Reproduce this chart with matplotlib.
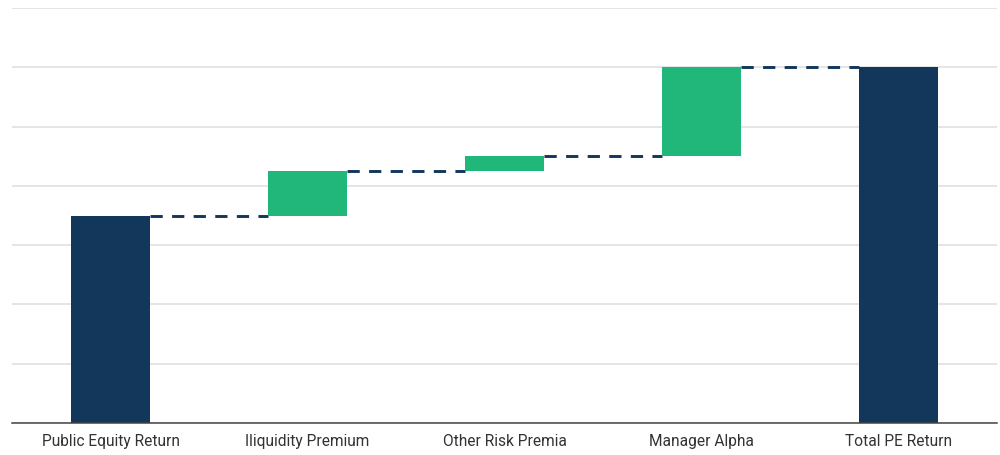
import matplotlib
matplotlib.use("Agg")
import matplotlib.pyplot as plt
import numpy as np

categories = ["Public Equity Return", "Iliquidity Premium", "Other Risk Premia", "Manager Alpha", "Total PE Return"]
values = [3.5, 0.75, 0.25, 1.5, 6.0]
is_total = [True, False, False, False, True]

navy = "#13375B"
green = "#21B67A"

plt.rcParams['font.family'] = ['Roboto', 'DejaVu Sans']

fig = plt.figure(figsize=(10, 4.55), dpi=100)
ax = fig.add_axes([0.012, 0.0703, 0.985, 0.9121])

x = np.arange(len(categories))
width = 0.4
bottoms = []
tops = []
running = 0.0
for v, tot in zip(values, is_total):
    if tot:
        bottoms.append(0.0)
        tops.append(v)
        running = v
    else:
        bottoms.append(running)
        running += v
        tops.append(running)

heights = [t - b for t, b in zip(tops, bottoms)]
colors = [navy if t else green for t in is_total]
ax.bar(x, heights, bottom=bottoms, width=width, color=colors, zorder=3)

for i in range(len(categories) - 1):
    ax.plot([x[i] + width / 2, x[i + 1] - width / 2], [tops[i], tops[i]],
            linestyle=(0, (4.2, 3.2)), color=navy, linewidth=2.1, zorder=2)

ax.set_xlim(-0.5, len(categories) - 0.5)
ax.set_ylim(0, 7)
ax.set_yticks(np.arange(0, 8, 1))
ax.yaxis.grid(True, color="#e3e3e3", linewidth=1.3, zorder=0)
ax.set_axisbelow(True)
ax.tick_params(axis='y', left=False, labelleft=False)
ax.set_xticks(x)
ax.set_xticklabels(categories, fontsize=11.2, color="#333333")
ax.tick_params(axis='x', length=0, pad=8)
for s in ["top", "right", "left"]:
    ax.spines[s].set_visible(False)
ax.spines["bottom"].set_color("#444444")
ax.spines["bottom"].set_linewidth(1.1)
ax.spines["bottom"].set_zorder(4)

fig.savefig("out.png", dpi=100)
